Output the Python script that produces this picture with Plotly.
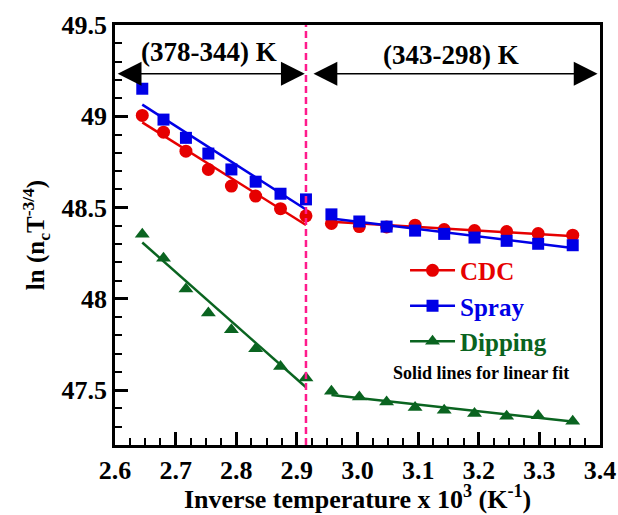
import plotly.graph_objects as go

# ---- data ----
x_left = [2.645, 2.680, 2.717, 2.754, 2.792, 2.832, 2.873, 2.915]
x_right = [2.957, 3.003, 3.048, 3.095, 3.143, 3.193, 3.246, 3.298, 3.355]

cdc_left = [49.005, 48.913, 48.809, 48.709, 48.618, 48.563, 48.494, 48.455]
cdc_right = [48.413, 48.396, 48.394, 48.404, 48.380, 48.374, 48.369, 48.358, 48.349]
spray_left = [49.151, 48.982, 48.882, 48.796, 48.709, 48.642, 48.576, 48.545]
spray_right = [48.463, 48.424, 48.396, 48.374, 48.356, 48.336, 48.318, 48.302, 48.294]
dip_left = [48.354, 48.223, 48.054, 47.923, 47.831, 47.727, 47.630, 47.567]
dip_right = [47.494, 47.463, 47.436, 47.405, 47.390, 47.372, 47.358, 47.360, 47.330]

# linear-fit endpoints
fit_x_left = [2.645, 2.915]
fit_x_right = [2.957, 3.358]
cdc_fit_left = [48.967, 48.405]
cdc_fit_right = [48.422, 48.343]
spray_fit_left = [49.064, 48.490]
spray_fit_right = [48.440, 48.278]
dip_fit_left = [48.309, 47.516]
dip_fit_right = [47.474, 47.327]

boundary_x = 2.915
x_ticks = [2.6, 2.7, 2.8, 2.9, 3.0, 3.1, 3.2, 3.3, 3.4]
y_ticks = [47.5, 48.0, 48.5, 49.0, 49.5]
range_labels = ["(378-344) K", "(343-298) K"]
x_title = "Inverse temperature x 10<sup>3</sup> (K<sup>-1</sup>)"
y_title = "ln (n<sub>c</sub>T<sup>-3/4</sup>)"

RED = "#e60000"
BLUE = "#0000e6"
GREEN = "#0a6420"
PINK = "#ff1a8c"
FONT = "Liberation Serif, Times New Roman, serif"

series = [
    ("CDC", RED, "circle", cdc_left, cdc_right, cdc_fit_left, cdc_fit_right, 13),
    ("Spray", BLUE, "square", spray_left, spray_right, spray_fit_left, spray_fit_right, 12),
    ("Dipping", GREEN, "triangle-up", dip_left, dip_right, dip_fit_left, dip_fit_right, 13),
]

fig = go.Figure()
for name, col, sym, yl, yr, fl, fr, ms in series:
    for fx, fy in ((fit_x_left, fl), (fit_x_right, fr)):
        fig.add_trace(go.Scatter(x=fx, y=fy, mode="lines",
                                 line=dict(color=col, width=2.5),
                                 showlegend=False, hoverinfo="skip"))
    fig.add_trace(go.Scatter(x=x_left + x_right, y=yl + yr, mode="markers",
                             marker=dict(symbol=sym, size=ms, color=col),
                             showlegend=False))
    fig.add_trace(go.Scatter(x=[None], y=[None], mode="lines+markers",
                             line=dict(color=col, width=2.5),
                             marker=dict(symbol=sym, size=ms, color=col),
                             name=f"<span style='color:{col}'><b>{name}</b></span>"))

fig.add_shape(type="line", x0=boundary_x, x1=boundary_x, y0=0, y1=1,
              xref="x", yref="paper",
              line=dict(color=PINK, width=2.5, dash="7px,4px"))

arrow_y = 49.233
for x0, x1 in ((2.602, 2.913), (2.925, 3.396)):
    fig.add_annotation(x=x1, y=arrow_y, ax=x0, ay=arrow_y, xref="x", yref="y",
                       axref="x", ayref="y", text="", showarrow=True,
                       arrowside="end+start", arrowhead=2, arrowsize=2.8,
                       arrowwidth=1.7, arrowcolor="black")
fig.add_annotation(x=2.755, y=49.35, xref="x", yref="y", text=f"<b>{range_labels[0]}</b>",
                   showarrow=False, font=dict(family=FONT, size=27, color="black"))
fig.add_annotation(x=3.155, y=49.335, xref="x", yref="y", text=f"<b>{range_labels[1]}</b>",
                   showarrow=False, font=dict(family=FONT, size=27, color="black"))
fig.add_annotation(x=3.204, y=47.595, xref="x", yref="y", text="<b>Solid lines for linear fit</b>",
                   showarrow=False, font=dict(family=FONT, size=18, color="black"))
# x-axis title placed just below tick labels
fig.add_annotation(x=0.5, y=-0.124, xref="paper", yref="paper", text=f"<b>{x_title}</b>",
                   showarrow=False, xanchor="center", yanchor="middle",
                   font=dict(family=FONT, size=26, color="black"))

axis_common = dict(
    showline=True, linewidth=2.5, linecolor="black", mirror=True,
    ticks="inside", ticklen=13, tickwidth=2.5, tickcolor="black",
    showgrid=False, zeroline=False, automargin=False,
    tickfont=dict(family=FONT, size=26, color="black"),
)

fig.update_xaxes(range=[2.6, 3.4], tickvals=x_ticks, ticktext=[f"<b>{v:.1f}</b>" for v in x_ticks],
                 minor=dict(dtick=0.025, ticks="inside", ticklen=7, tickwidth=2, tickcolor="black"),
                 **axis_common)
fig.update_yaxes(range=[47.2, 49.5], tickvals=y_ticks,
                 ticktext=[f"<b>{v:g}</b>" for v in y_ticks],
                 minor=dict(dtick=0.1, ticks="inside", ticklen=7, tickwidth=2, tickcolor="black"),
                 title=dict(text=f"<b>{y_title}</b>",
                            font=dict(family=FONT, size=25, color="black"), standoff=10),
                 **axis_common)

fig.update_layout(
    width=618, height=515,
    margin=dict(l=115, r=18, t=25, b=70),
    paper_bgcolor="white", plot_bgcolor="white",
    font=dict(family=FONT, color="black"),
    legend=dict(x=0.598, y=0.47, xanchor="left", yanchor="top",
                bgcolor="rgba(0,0,0,0)", itemwidth=45, tracegroupgap=0,
                font=dict(family=FONT, size=25)),
    showlegend=True,
)

fig.write_html("out.html")
